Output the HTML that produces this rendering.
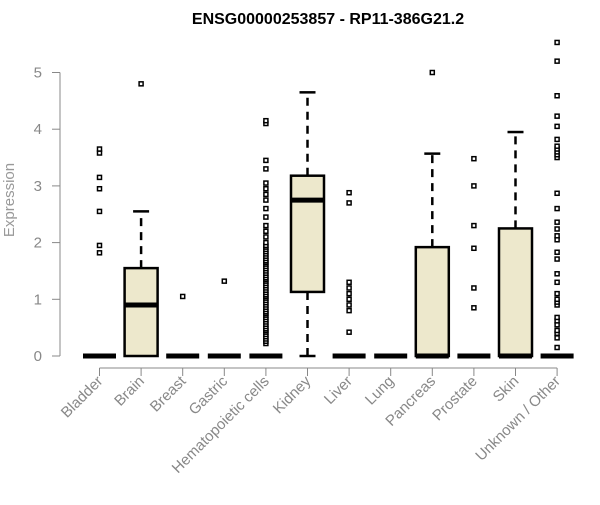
<!DOCTYPE html>
<html><head><meta charset="utf-8"><style>
body{margin:0;background:#fff;font-family:"Liberation Sans",sans-serif}
</style></head><body>
<svg id="chart" width="600" height="500" xmlns="http://www.w3.org/2000/svg">
<text x="328" y="24" text-anchor="middle" font-size="16" font-weight="bold" font-family="Liberation Sans, sans-serif">ENSG00000253857 - RP11-386G21.2</text>
<text transform="translate(14,200) rotate(-90)" text-anchor="middle" font-size="15" fill="#999">Expression</text>
<g id="plot"></g>
</svg>
<script>
const categories=["Bladder","Brain","Breast","Gastric","Hematopoietic cells","Kidney","Liver","Lung","Pancreas","Prostate","Skin","Unknown / Other"];
const q1=[0,0,0,0,0,1.13,0,0,0,0,0,0];
const medians=[0,0.9,0,0,0,2.75,0,0,0,0,0,0];
const q3=[0,1.55,0,0,0,3.18,0,0,1.92,0,2.25,0];
const whiskLo=[0,0,0,0,0,0,0,0,0,0,0,0];
const whiskHi=[0,2.55,0,0,0,4.65,0,0,3.57,0,3.95,0];
const outliers=[
[1.82,1.95,2.55,2.95,3.15,3.58,3.65],
[4.8],
[1.05],
[1.32],
[0.22,0.26,0.3,0.34,0.38,0.42,0.45,0.48,0.52,0.56,0.6,0.64,0.68,0.72,0.75,0.78,0.82,0.86,0.9,0.94,0.98,1.02,1.05,1.08,1.12,1.16,1.2,1.24,1.28,1.32,1.35,1.38,1.42,1.46,1.5,1.54,1.58,1.62,1.65,1.68,1.72,1.76,1.8,1.84,1.88,1.92,1.95,2.0,2.1,2.2,2.3,2.45,2.6,2.75,2.85,2.95,3.05,3.3,3.45,4.1,4.15],
[],
[0.42,0.8,0.9,1.0,1.1,1.2,1.3,2.7,2.88],
[],
[5.0],
[0.85,1.2,1.9,2.3,3.0,3.48],
[],
[0.15,0.32,0.4,0.45,0.55,0.62,0.68,0.9,0.95,1.0,1.1,1.3,1.45,1.71,1.83,2.05,2.12,2.24,2.36,2.6,2.87,3.5,3.55,3.6,3.65,3.7,3.82,4.05,4.23,4.59,5.2,5.53]
];
const yTicks=[0,1,2,3,4,5];
const ns="http://www.w3.org/2000/svg";
const g=document.getElementById('plot');
const X=i=>99.5+i*41.6;
const Y=v=>356-v*56.7;
function mk(t,a,p){const e=document.createElementNS(ns,t);for(const k in a)e.setAttribute(k,a[k]);(p||g).appendChild(e);return e;}
let e=mk('line',{x1:60,x2:60,y1:Y(0),y2:Y(5),stroke:'#888'});


yTicks.forEach(t=>{
 let l=mk('line',{x1:52,x2:60,y1:Y(t),y2:Y(t),stroke:'#888'});
 
 
 let tx=mk('text',{x:42,y:Y(t)+5,'text-anchor':'end','font-size':15,fill:'#888'});
 tx.textContent=t;
 
 
});
e=mk('line',{x1:X(0),x2:X(11),y1:368,y2:368,stroke:'#888'});


categories.forEach((c,i)=>{
 const x=X(i),hw=16.5;
 let l=mk('line',{x1:x,x2:x,y1:368,y2:376,stroke:'#888'});
 
 
 let tx=mk('text',{x:x+4,y:382,'text-anchor':'end','font-size':15,fill:'#888',transform:`rotate(-45 ${x+4} 382)`});
 tx.textContent=c;
 
 
 const grp=mk('g',{});
 
 
 if(whiskHi[i]>q3[i]){
  mk('line',{x1:x,x2:x,y1:Y(q3[i]),y2:Y(whiskHi[i]),stroke:'#000','stroke-width':2.5,'stroke-dasharray':'8,6'},grp);
  mk('line',{x1:x-8,x2:x+8,y1:Y(whiskHi[i]),y2:Y(whiskHi[i]),stroke:'#000','stroke-width':2.5},grp);
 }
 if(q1[i]>whiskLo[i]){
  mk('line',{x1:x,x2:x,y1:Y(whiskLo[i]),y2:Y(q1[i]),stroke:'#000','stroke-width':2.5,'stroke-dasharray':'8,6'},grp);
  mk('line',{x1:x-8,x2:x+8,y1:Y(whiskLo[i]),y2:Y(whiskLo[i]),stroke:'#000','stroke-width':2.5},grp);
 }
 if(q3[i]>q1[i]){
  mk('rect',{x:x-hw,y:Y(q3[i]),width:hw*2,height:Y(q1[i])-Y(q3[i]),fill:'#ede8cc',stroke:'#000','stroke-width':2.5},grp);
 }
 mk('line',{x1:x-hw,x2:x+hw,y1:Y(medians[i]),y2:Y(medians[i]),stroke:'#000','stroke-width':5},grp);
 outliers[i].forEach(v=>{
  let r=mk('rect',{x:x-2,y:Y(v)-2,width:4,height:4,fill:'#fff',stroke:'#000','stroke-width':1.5},grp);
  
  
 });
});
</script>
</body></html>
